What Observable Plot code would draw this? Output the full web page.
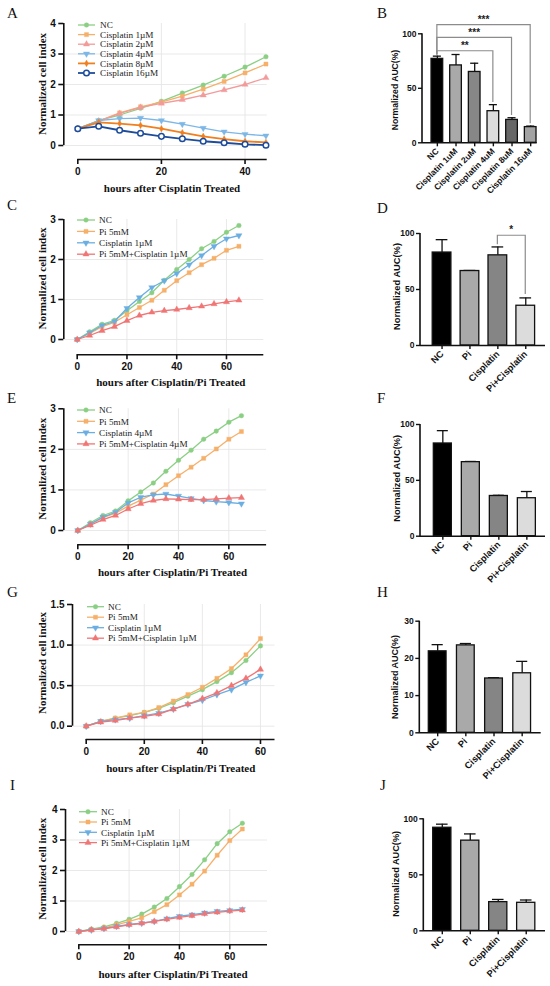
<!DOCTYPE html>
<html>
<head>
<meta charset="utf-8">
<script src="https://cdn.jsdelivr.net/npm/d3@7"></script>
<script src="https://cdn.jsdelivr.net/npm/@observablehq/plot@0.6"></script>
<style>
html,body{margin:0;padding:0;background:#fff;}
#fig{position:relative;width:550px;height:986px;overflow:hidden;background:#fff;}
.panel{position:absolute;}
.panel svg{display:block;overflow:visible;max-width:none;}
#letters{position:absolute;left:0;top:0;pointer-events:none;}
</style>
</head>
<body>
<div id="fig"></div>
<script>
// ================= DATA =================
// Panel A
const hoursA = [0, 5, 10, 15, 20, 25, 30, 35, 40, 45];
const seriesA = ["NC", "Cisplatin 1µM", "Cisplatin 2µM", "Cisplatin 4µM", "Cisplatin 8µM", "Cisplatin 16µM"];
const aNC    = [0.55, 0.82, 1.00, 1.22, 1.45, 1.72, 1.98, 2.27, 2.57, 2.91];
const aCis1  = [0.55, 0.80, 1.07, 1.27, 1.42, 1.62, 1.85, 2.10, 2.38, 2.67];
const aCis2  = [0.55, 0.80, 1.05, 1.25, 1.38, 1.50, 1.65, 1.82, 2.00, 2.22];
const aCis4  = [0.55, 0.82, 0.88, 0.90, 0.82, 0.70, 0.57, 0.45, 0.37, 0.32];
const aCis8  = [0.55, 0.76, 0.72, 0.66, 0.55, 0.42, 0.30, 0.21, 0.14, 0.10];
const aCis16 = [0.55, 0.63, 0.50, 0.40, 0.30, 0.22, 0.14, 0.09, 0.04, 0.01];

// Panels C, E, G, I
const hours65 = [0, 5, 10, 15, 20, 25, 30, 35, 40, 45, 50, 55, 60, 65];
const hours60 = [0, 5, 10, 15, 20, 25, 30, 35, 40, 45, 50, 55, 60];
const seriesC = ["NC", "Pi 5mM", "Cisplatin 1µM", "Pi 5mM+Cisplatin 1µM"];
const seriesE = ["NC", "Pi 5mM", "Cisplatin 4µM", "Pi 5mM+Cisplatin 4µM"];

const cNC    = [0, 0.19, 0.38, 0.48, 0.72, 0.95, 1.17, 1.48, 1.75, 2.00, 2.27, 2.45, 2.68, 2.85];
const cPi    = [0, 0.15, 0.32, 0.43, 0.62, 0.80, 0.98, 1.23, 1.47, 1.67, 1.87, 2.03, 2.23, 2.33];
const cCis   = [0, 0.17, 0.35, 0.45, 0.78, 1.05, 1.30, 1.47, 1.65, 1.87, 2.10, 2.33, 2.52, 2.60];
const cPiCis = [0, 0.10, 0.22, 0.32, 0.47, 0.60, 0.68, 0.72, 0.75, 0.79, 0.83, 0.89, 0.94, 0.98];

const eNC    = [0, 0.19, 0.37, 0.48, 0.73, 0.95, 1.17, 1.46, 1.73, 1.98, 2.25, 2.45, 2.67, 2.83];
const ePi    = [0, 0.15, 0.32, 0.43, 0.60, 0.75, 0.90, 1.13, 1.35, 1.56, 1.78, 2.01, 2.25, 2.44];
const eCis   = [0, 0.16, 0.33, 0.45, 0.68, 0.82, 0.88, 0.90, 0.85, 0.79, 0.74, 0.71, 0.69, 0.66];
const ePiCis = [0, 0.13, 0.27, 0.37, 0.53, 0.66, 0.74, 0.78, 0.77, 0.76, 0.76, 0.78, 0.80, 0.81];

const gNC    = [0, 0.06, 0.10, 0.13, 0.17, 0.22, 0.29, 0.37, 0.45, 0.55, 0.66, 0.81, 0.99];
const gPi    = [0, 0.06, 0.10, 0.14, 0.17, 0.23, 0.31, 0.39, 0.48, 0.59, 0.71, 0.88, 1.08];
const gCis   = [0, 0.06, 0.08, 0.10, 0.13, 0.16, 0.21, 0.27, 0.32, 0.39, 0.45, 0.54, 0.62];
const gPiCis = [0, 0.05, 0.07, 0.10, 0.12, 0.15, 0.21, 0.27, 0.34, 0.41, 0.50, 0.59, 0.70];

const iNC    = [0, 0.08, 0.15, 0.27, 0.40, 0.57, 0.80, 1.08, 1.47, 1.87, 2.35, 2.88, 3.27, 3.55];
const iPi    = [0, 0.05, 0.12, 0.22, 0.33, 0.45, 0.65, 0.88, 1.20, 1.55, 1.98, 2.50, 2.98, 3.36];
const iCis   = [0, 0.05, 0.10, 0.17, 0.23, 0.27, 0.33, 0.42, 0.50, 0.55, 0.61, 0.66, 0.69, 0.73];
const iPiCis = [0, 0.05, 0.09, 0.15, 0.22, 0.27, 0.33, 0.40, 0.46, 0.52, 0.58, 0.63, 0.67, 0.70];

// Bar panels (mean and SD)
const groupsB = ["NC", "Cisplatin 1uM", "Cisplatin 2uM", "Cisplatin 4uM", "Cisplatin 8uM", "Cisplatin 16uM"];
const meanB = [77, 71, 65, 29, 21, 14.4];
const sdB   = [2.5, 10, 8, 6, 2, 0.9];
const groups4 = ["NC", "Pi", "Cisplatin", "Pi+Cisplatin"];
const meanD = [83, 66.5, 80.5, 35.5];
const sdD   = [11.5, 0.5, 7.5, 7];
const meanF = [83, 66.3, 36, 34];
const sdF   = [11.5, 0.6, 0.6, 6];
const meanH = [21.9, 23.5, 14.6, 16.0];
const sdH   = [1.8, 0.5, 0.2, 3.2];
const meanJ = [92, 80.5, 25.6, 25];
const sdJ   = [3.2, 6, 2.4, 2.5];

// significance brackets
const bracketsB = [
  {from: "NC", to: "Cisplatin 4uM",  level: 84,   leftEnd: 80.5, rightEnd: 37,   label: "**",  labelY: 90.8},
  {from: "NC", to: "Cisplatin 8uM",  level: 96.3, leftEnd: 80.5, rightEnd: 25,   label: "***", labelY: 103},
  {from: "NC", to: "Cisplatin 16uM", level: 108,  leftEnd: 80.5, rightEnd: 17.5, label: "***", labelY: 115}
];
const bracketsD = [
  {from: "Cisplatin", to: "Pi+Cisplatin", level: 98, leftEnd: 90, rightEnd: 45.5, label: "*", labelY: 105}
];

// ================= STYLES =================
const FS = "'Liberation Sans', Arial, Helvetica, sans-serif";
const FR = "'Liberation Serif', 'Times New Roman', Times, serif";
const triangleDown = {
  draw(context, size) {
    const y = -Math.sqrt(size / (Math.sqrt(3) * 3));
    context.moveTo(0, -y * 2);
    context.lineTo(-Math.sqrt(3) * y, y);
    context.lineTo(Math.sqrt(3) * y, y);
    context.closePath();
  }
};
const GREEN = "#8bcf84", LORANGE = "#f6b06a", PINK = "#f39a9a", LBLUE = "#7db7e6",
      DORANGE = "#f07f1e", DBLUE = "#1d4c9b", RED = "#f07575", BLUE = "#6aaee2";
const stylesA = [
  {color: GREEN, symbol: d3.symbolCircle, r: 2.3, lw: 1.3},
  {color: LORANGE, symbol: d3.symbolSquare, r: 2.3, lw: 1.3},
  {color: PINK, symbol: d3.symbolTriangle, r: 2.3, lw: 1.3},
  {color: LBLUE, symbol: triangleDown, r: 2.3, lw: 1.3},
  {color: DORANGE, symbol: d3.symbolDiamond, r: 2.0, lw: 1.8},
  {color: DBLUE, symbol: d3.symbolCircle, r: 2.8, lw: 1.8, open: true}
];
const styles4 = [
  {color: GREEN, symbol: d3.symbolCircle, r: 2.3, lw: 1.3},
  {color: LORANGE, symbol: d3.symbolSquare, r: 2.3, lw: 1.3},
  {color: BLUE, symbol: triangleDown, r: 2.3, lw: 1.3},
  {color: RED, symbol: d3.symbolTriangle, r: 2.3, lw: 1.3}
];
const fillsB = ["#000000", "#a9a9a9", "#878787", "#dcdcdc", "#676767", "#a3a3a3"];
const fills4 = ["#000000", "#a9a9a9", "#858585", "#dcdcdc"];

const fig = document.getElementById("fig");
function mount(chart, left, top, w, h) {
  const d = document.createElement("div");
  d.className = "panel";
  d.style.left = left + "px"; d.style.top = top + "px";
  d.style.width = w + "px"; d.style.height = h + "px";
  d.appendChild(chart);
  fig.appendChild(d);
}

// ================= LINE PANELS =================
function linePanel(p) {
  const rows = [];
  p.names.forEach((name, k) => p.hours.forEach((h, i) => rows.push({k, name, h, v: p.values[k][i]})));
  const [yMin, yMax] = p.yDomain;
  const xMax = p.xDomain[1];
  const marks = [
    Plot.gridX(p.xTicks.filter(t => t > 0), {stroke: "#e3e3e3", strokeOpacity: 1, strokeWidth: 0.8}),
    Plot.gridY(p.yTicks.filter(t => t < yMax), {stroke: "#e3e3e3", strokeOpacity: 1, strokeWidth: 0.8}),
    Plot.ruleX([0], {y1: yMin, y2: yMax, dx: -p.insetLeft, stroke: "#111", strokeWidth: 1.6}),
    Plot.ruleY([yMin], {x1: 0, x2: xMax, dy: p.insetBottom, stroke: "#111", strokeWidth: 1.6}),
    Plot.axisX(p.xTicks, {tickSize: 5, tickPadding: 3, strokeWidth: 1.6, label: null, fontSize: 10, fontWeight: "bold", fontFamily: FS}),
    Plot.axisY(p.yTicks, {tickSize: 5, tickPadding: 3, strokeWidth: 1.6, label: null, tickFormat: p.yFormat, fontSize: 10, fontWeight: "bold", fontFamily: FS})
  ];
  p.names.forEach((name, k) => {
    const st = p.styles[k];
    const data = rows.filter(r => r.k === k);
    marks.push(Plot.line(data, {x: "h", y: "v", stroke: st.color, strokeWidth: st.lw}));
    marks.push(Plot.dot(data, {x: "h", y: "v", symbol: st.symbol, r: st.r,
      fill: st.open ? "#ffffff" : st.color, stroke: st.color, strokeWidth: st.open ? 1.5 : 0.4}));
  });
  marks.push(Plot.text([p.xtitle], {text: d => d, frameAnchor: "bottom", lineAnchor: "middle", textAnchor: "middle",
    dx: p.xtdx, dy: p.xtdy, fontFamily: FR, fontSize: 11, fontWeight: "bold"}));
  marks.push(Plot.text(["Normalized cell index"], {text: d => d, frameAnchor: "left", rotate: -90, textAnchor: "middle",
    lineAnchor: "middle", dx: p.ytdx, dy: p.ytdy, fontFamily: FR, fontSize: 11, fontWeight: "bold"}));

  const chart = Plot.plot({
    width: p.width, height: p.height,
    marginTop: p.mt, marginRight: p.mr, marginBottom: p.mb, marginLeft: p.ml,
    x: {domain: p.xDomain, insetLeft: p.insetLeft},
    y: {domain: p.yDomain, insetBottom: p.insetBottom},
    style: `font-family: ${FS}; font-size: 10px; font-weight: bold; overflow: visible; background: transparent; color: #111;`,
    marks
  });
  // legend
  const svg = d3.select(chart);
  const L = p.legend;
  const g = svg.append("g").attr("text-anchor", "start");
  p.names.forEach((name, k) => {
    const st = p.styles[k];
    const y = L.y0 + k * L.dy;
    g.append("line").attr("x1", L.x1).attr("x2", L.x2).attr("y1", y).attr("y2", y)
      .attr("stroke", st.color).attr("stroke-width", st.lw);
    g.append("path").attr("d", d3.symbol(st.symbol, Math.PI * st.r * st.r)())
      .attr("transform", `translate(${(L.x1 + L.x2) / 2},${y})`)
      .attr("fill", st.open ? "#ffffff" : st.color).attr("stroke", st.color)
      .attr("stroke-width", st.open ? 1.5 : 0.4);
    g.append("text").attr("x", L.tx).attr("y", y).attr("dy", "0.35em")
      .attr("text-anchor", "start")
      .attr("font-family", FR).attr("font-size", 9.2).attr("font-weight", "normal")
      .attr("fill", "#222").text(name);
  });
  mount(chart, 0, p.top, p.width, p.height);
}

// ================= BAR PANELS =================
function barPanel(p) {
  const rows = p.groups.map((g, i) => ({g, m: p.mean[i], top: p.mean[i] + p.sd[i]}));
  const chart = Plot.plot({
    width: p.width, height: p.height,
    marginTop: p.mt, marginRight: p.mr, marginBottom: p.mb, marginLeft: p.ml,
    x: {domain: p.groups, paddingInner: p.pi, paddingOuter: p.po, align: p.align, round: false, label: null},
    y: {domain: [0, p.yMax], label: null},
    color: {domain: p.groups, range: p.fills},
    style: `font-family: ${FS}; font-size: 8px; font-weight: bold; overflow: visible; background: transparent; color: #111;`,
    marks: [
      Plot.ruleX(rows, {x: "g", y1: "m", y2: "top", stroke: "#111", strokeWidth: 1.3}),
      Plot.tickY(rows, {x: "g", y: "top", stroke: "#111", strokeWidth: 1.3, insetLeft: p.cap, insetRight: p.cap}),
      Plot.barY(rows, {x: "g", y: "m", fill: "g", stroke: "#111", strokeWidth: 1.3}),
      Plot.ruleY([0], {stroke: "#111", strokeWidth: 1.6}),
      Plot.axisX({tickRotate: -45, tickSize: 4, tickPadding: 3, strokeWidth: 1.4, label: null,
        fontSize: p.xfs, fontWeight: "bold", fontFamily: FS}),
      Plot.axisY(p.yTicks, {tickSize: 4, tickPadding: 2, strokeWidth: 1.4, label: null,
        fontSize: p.yfs, fontWeight: "bold", fontFamily: FS}),
      Plot.text(["Normalized AUC(%)"], {text: d => d, frameAnchor: "left", rotate: -90, textAnchor: "middle",
        lineAnchor: "middle", dx: p.tdx, dy: p.tdy, fontSize: p.tfs, fontWeight: "bold", fontFamily: FS})
    ]
  });
  const svg = d3.select(chart);
  const xs = chart.scale("x"), ys = chart.scale("y");
  svg.append("line").attr("x1", p.ml).attr("x2", p.ml)
    .attr("y1", ys.apply(0) + 0.8).attr("y2", ys.apply(p.yMax))
    .attr("stroke", "#111").attr("stroke-width", 1.6);
  const cx = g => xs.apply(g) + xs.bandwidth / 2;
  (p.brackets || []).forEach(b => {
    const xa = cx(b.from), xb = cx(b.to), yl = ys.apply(b.level);
    svg.append("path")
      .attr("d", `M${xa},${ys.apply(b.leftEnd)}V${yl}H${xb}V${ys.apply(b.rightEnd)}`)
      .attr("fill", "none").attr("stroke", "#8c8c8c").attr("stroke-width", 1.2);
    svg.append("text").attr("x", (xa + xb) / 2).attr("y", ys.apply(b.labelY)).attr("dy", "0.57em")
      .attr("text-anchor", "middle").attr("font-size", 10).attr("font-weight", "bold")
      .attr("fill", "#222").text(b.label);
  });
  mount(chart, 370, p.top, p.width, p.height);
}

// ================= BUILD =================
linePanel({top: 0, width: 290, height: 195, mt: 23, mr: 23.3, mb: 36, ml: 63.3, insetLeft: 14, insetBottom: 14,
  xDomain: [0, 45.3], yDomain: [0, 4], xTicks: [0, 20, 40], yTicks: [0, 1, 2, 3, 4],
  hours: hoursA, names: seriesA, values: [aNC, aCis1, aCis2, aCis4, aCis8, aCis16], styles: stylesA,
  xtitle: "hours after Cisplatin Treated", xtdx: 6.5, xtdy: 29, ytdx: -21.3, ytdy: -7.5,
  legend: {y0: 25, dy: 9.6, x1: 78, x2: 95, tx: 100}});

linePanel({top: 195, width: 290, height: 195, mt: 24, mr: 26.7, mb: 35.7, ml: 63.3, insetLeft: 13.4, insetBottom: 15.3,
  xDomain: [0, 75], yDomain: [0, 3], xTicks: [0, 20, 40, 60], yTicks: [0, 1, 2, 3],
  hours: hours65, names: seriesC, values: [cNC, cPi, cCis, cPiCis], styles: styles4,
  xtitle: "hours after Cisplatin/Pi Treated", xtdx: 7, xtdy: 27.4, ytdx: -21.6, ytdy: -8.7,
  legend: {y0: 25, dy: 11.4, x1: 77, x2: 95, tx: 99}});

linePanel({top: 385, width: 290, height: 195, mt: 23.3, mr: 23.9, mb: 35.7, ml: 63.3, insetLeft: 14, insetBottom: 14.3,
  xDomain: [0, 75], yDomain: [0, 3], xTicks: [0, 20, 40, 60], yTicks: [0, 1, 2, 3],
  hours: hours65, names: seriesE, values: [eNC, ePi, eCis, ePiCis], styles: styles4,
  xtitle: "hours after Cisplatin/Pi Treated", xtdx: 7.3, xtdy: 27.4, ytdx: -21.6, ytdy: -8,
  legend: {y0: 25, dy: 11.3, x1: 77, x2: 95, tx: 99}});

linePanel({top: 575, width: 290, height: 200, mt: 29, mr: 15.5, mb: 36, ml: 72, insetLeft: 13.7, insetBottom: 13.3,
  xDomain: [0, 65], yDomain: [0, 1.5], xTicks: [0, 20, 40, 60], yTicks: [0, 0.5, 1, 1.5], yFormat: ".1f",
  hours: hours60, names: seriesC, values: [gNC, gPi, gCis, gPiCis], styles: styles4,
  xtitle: "hours after Cisplatin/Pi Treated", xtdx: 7, xtdy: 29.3, ytdx: -30.3, ytdy: -9,
  legend: {y0: 31.7, dy: 10.5, x1: 87, x2: 104, tx: 108}});

linePanel({top: 770, width: 290, height: 216, mt: 39, mr: 23, mb: 41.7, ml: 65, insetLeft: 13.3, insetBottom: 13.3,
  xDomain: [0, 75], yDomain: [0, 4], xTicks: [0, 20, 40, 60], yTicks: [0, 1, 2, 3, 4],
  hours: hours65, names: seriesC, values: [iNC, iPi, iCis, iPiCis], styles: styles4,
  xtitle: "hours after Cisplatin/Pi Treated", xtdx: 6.5, xtdy: 29.7, ytdx: -23.3, ytdy: -8.3,
  legend: {y0: 41.7, dy: 10.3, x1: 79, x2: 97, tx: 101}});

barPanel({top: 0, width: 180, height: 200, mt: 33.3, mr: 13.3, mb: 57.7, ml: 52,
  groups: groupsB, mean: meanB, sd: sdB, fills: fillsB, yMax: 100, yTicks: [0, 50, 100],
  pi: 0.375, po: 0.26, align: 0.93, cap: 1.8, xfs: 8.5, yfs: 8.5, tfs: 8.6, tdx: -27, tdy: 1.7,
  brackets: bracketsB});

barPanel({top: 195, width: 180, height: 195, mt: 38, mr: 5, mb: 45, ml: 50,
  groups: groups4, mean: meanD, sd: sdD, fills: fills4, yMax: 100, yTicks: [0, 50, 100],
  pi: 0.33, po: 0.405, align: 0.54, cap: 3.5, xfs: 9.3, yfs: 8.5, tfs: 9.3, tdx: -23.3, tdy: -3,
  brackets: bracketsD});

barPanel({top: 385, width: 180, height: 190, mt: 39, mr: 5, mb: 39.3, ml: 50,
  groups: groups4, mean: meanF, sd: sdF, fills: fills4, yMax: 100, yTicks: [0, 50, 100],
  pi: 0.357, po: 0.41, align: 0.58, cap: 3.5, xfs: 9.3, yfs: 8.5, tfs: 9.3, tdx: -23.3, tdy: -2});

barPanel({top: 575, width: 180, height: 195, mt: 45.7, mr: 9.3, mb: 37.7, ml: 49.3,
  groups: groups4, mean: meanH, sd: sdH, fills: fills4, yMax: 30, yTicks: [0, 10, 20, 30],
  pi: 0.37, po: 0.34, align: 0.47, cap: 3.3, xfs: 9.3, yfs: 8.5, tfs: 9, tdx: -24.3, tdy: 0});

barPanel({top: 770, width: 180, height: 216, mt: 48.3, mr: 5, mb: 55.7, ml: 53.3,
  groups: groups4, mean: meanJ, sd: sdJ, fills: fills4, yMax: 100, yTicks: [0, 50, 100],
  pi: 0.35, po: 0.35, align: 0.48, cap: 3.3, xfs: 9.3, yfs: 8.5, tfs: 9.2, tdx: -27.3, tdy: -1});

// ================= PANEL LETTERS =================
const letters = [
  ["A", 7, 18], ["B", 377, 18], ["C", 7, 210], ["D", 377, 213], ["E", 7, 403],
  ["F", 377, 403], ["G", 7, 597], ["H", 377, 597], ["I", 10, 790], ["J", 380, 790]
];
const ov = d3.select(fig).append("svg").attr("id", "letters").attr("width", 550).attr("height", 986);
letters.forEach(([t, x, y]) => ov.append("text").attr("x", x).attr("y", y)
  .attr("font-family", FR).attr("font-size", 15).attr("fill", "#111").text(t));
</script>
</body>
</html>
